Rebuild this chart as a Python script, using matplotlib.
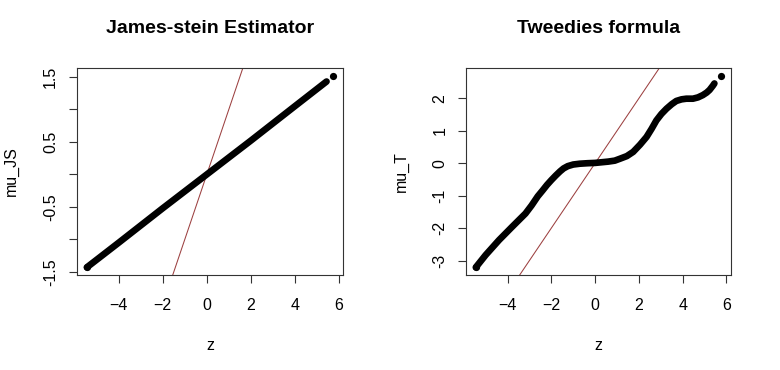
import numpy as np
import matplotlib
matplotlib.use("Agg")
import matplotlib.pyplot as plt

plt.rcParams["font.family"] = ["Liberation Sans", "DejaVu Sans"]

# James-Stein panel
z_js = [-5.45, -4.0, -2.0, 0.0, 2.0, 4.0, 5.44]
mu_js = [-1.43, -1.05, -0.52, 0.0, 0.52, 1.05, 1.43]
z_js_out = [-5.45, 5.74]
mu_js_out = [-1.43, 1.52]

# Tweedie panel
z_tw = [-5.45, -5.0, -4.39, -3.79, -3.18, -2.90, -2.62, -2.40, -2.20, -2.00,
        -1.80, -1.60, -1.44, -1.25, -1.00, -0.70, -0.35, 0.00, 0.30, 0.60,
        0.90, 1.14, 1.45, 1.74, 2.05, 2.35, 2.58, 2.80, 3.03, 3.26, 3.50, 3.71,
        3.95, 4.17, 4.47, 4.70, 4.92, 5.10, 5.23, 5.38, 5.45]
mu_tw = [-3.21, -2.83, -2.37, -1.96, -1.55, -1.30, -1.02, -0.84, -0.67, -0.52,
         -0.38, -0.25, -0.16, -0.09, -0.04, -0.015, 0.00, 0.01, 0.03, 0.05,
         0.08, 0.14, 0.22, 0.35, 0.57, 0.81, 1.06, 1.32, 1.52, 1.68, 1.82, 1.92,
         1.97, 1.99, 1.99, 2.03, 2.10, 2.18, 2.26, 2.39, 2.46]
z_tw_out = [-5.45, 5.76]
mu_tw_out = [-3.21, 2.70]

RED = "#9c4040"


def rlim(vals):
    lo, hi = min(vals), max(vals)
    pad = 0.04 * (hi - lo)
    return lo - pad, hi + pad


def panel(ax, z, mu, zo, muo, title, ylab, yticks, ylabels):
    ax.plot(z, mu, color="black", lw=4.8, solid_capstyle="round",
            solid_joinstyle="round", zorder=3)
    ax.plot(zo, muo, "o", color="black", ms=5.2, mec="none", zorder=3)
    ax.axline((0, 0), slope=1, color=RED, lw=0.75, zorder=2)
    ax.set_xlim(*rlim(list(z) + list(zo)))
    ax.set_ylim(*rlim(list(mu) + list(muo)))
    ax.set_xticks([-4, -2, 0, 2, 4, 6])
    ax.set_yticks(yticks)
    ax.set_yticklabels(ylabels, rotation=90, va="center")
    ax.tick_params(direction="out", length=5.5, width=0.8, labelsize=11.5,
                   color="#333333")
    ax.tick_params(axis="x", pad=11)
    ax.tick_params(axis="y", pad=8)
    for s in ax.spines.values():
        s.set_linewidth(0.8)
        s.set_color("#333333")
    ax.set_title(title, fontweight="bold", fontsize=14, pad=25)
    ax.set_xlabel("z", fontsize=11.5)
    ax.set_ylabel(ylab, fontsize=11.5)
    ax.xaxis.set_label_coords(0.5, -0.34)
    ax.xaxis.label.set_va("center")
    ax.yaxis.set_label_coords(-0.245, 0.5)
    ax.yaxis.label.set_va("center")


fig = plt.figure(figsize=(7.8, 3.7), dpi=100)
ax1 = fig.add_axes([77 / 780, 95 / 370, 266 / 780, 207 / 370])
ax2 = fig.add_axes([466 / 780, 95 / 370, 265 / 780, 207 / 370])

panel(ax1, z_js, mu_js, z_js_out, mu_js_out, "James-stein Estimator", "mu_JS",
      [-1.5, -1.0, -0.5, 0.0, 0.5, 1.0, 1.5],
      ["-1.5", "", "-0.5", "", "0.5", "", "1.5"])
panel(ax2, z_tw, mu_tw, z_tw_out, mu_tw_out, "Tweedies formula", "mu_T",
      [-3, -2, -1, 0, 1, 2],
      ["-3", "-2", "-1", "0", "1", "2"])

fig.savefig("out.png", dpi=100)
